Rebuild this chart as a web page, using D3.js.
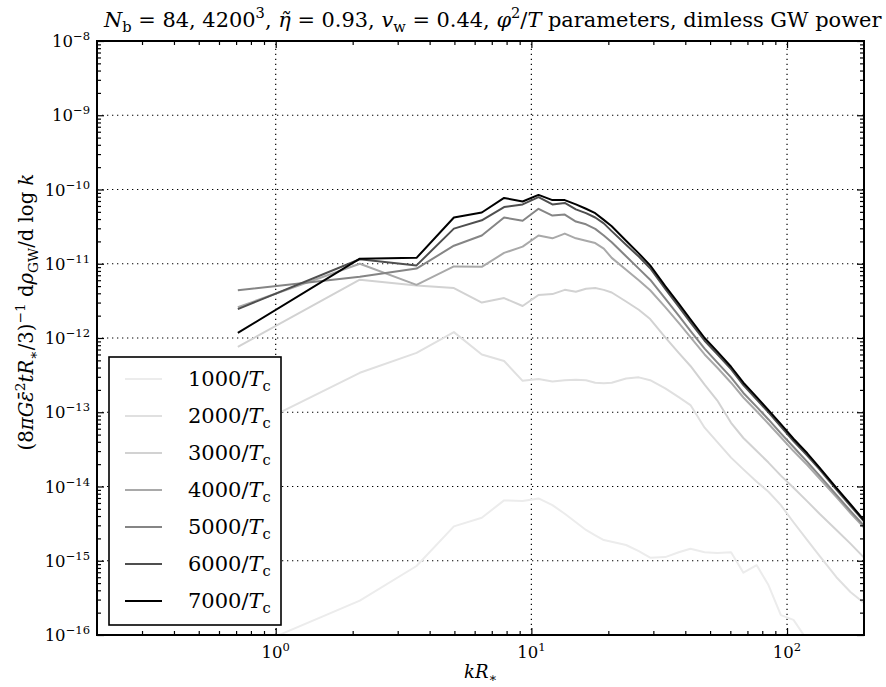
<!DOCTYPE html>
<html>
<head>
<meta charset="utf-8">
<script src="https://cdn.jsdelivr.net/npm/d3@7"></script>
<style>
	body { margin: 0; background: #fff; }
	svg { display: block; }
	text { font-family: "DejaVu Serif", "Liberation Serif", serif; fill: #000; }
</style>
</head>
<body>
<svg id="chart" width="886" height="687"></svg>
<script>
'use strict';

//Wavenumbers kR* shared by all spectra
var kValues = [0.711, 2.133, 3.555, 4.977, 6.399, 7.821, 9.243, 10.665, 12.087, 13.509,
	14.931, 16.353, 17.775, 19.197, 20.619, 23.463, 26.307, 29.151, 33.4, 37.7,
	41.9, 47.6, 53.3, 60.4, 67.5, 76.1, 84.6, 94.6, 106, 120,
	134, 156, 177, 200];

//Dimensionless GW power at each time
var p1000 = [5.8e-17, 2.9e-16, 8.5e-16, 2.9e-15, 3.8e-15, 6.5e-15, 6.4e-15, 6.9e-15, 5.6e-15, 4.3e-15,
	3.3e-15, 2.6e-15, 2.2e-15, 1.9e-15, 1.8e-15, 1.63e-15, 1.35e-15, 1.1e-15, 1.12e-15, 1.3e-15,
	1.45e-15, 1.3e-15, 1.27e-15, 1.3e-15, 6.9e-16, 8.7e-16, 4.7e-16, 1.85e-16, 1.6e-16, 8.5e-17,
	5e-17, 3e-17, 2e-17, 1.5e-17];
var p2000 = [5.2e-14, 3.4e-13, 6.3e-13, 1.2e-12, 6.0e-13, 4.9e-13, 2.65e-13, 2.8e-13, 2.6e-13, 2.7e-13,
	2.75e-13, 2.7e-13, 2.5e-13, 2.45e-13, 2.5e-13, 2.85e-13, 2.95e-13, 2.7e-13, 2.1e-13, 1.6e-13,
	1.25e-13, 6.2e-14, 4.0e-14, 2.45e-14, 1.7e-14, 1.16e-14, 8.5e-15, 5.6e-15, 3.3e-15, 1.9e-15,
	1.16e-15, 6.0e-16, 3.8e-16, 2.7e-16];
var p3000 = [7.6e-13, 6.1e-12, 5.1e-12, 4.7e-12, 3.0e-12, 3.45e-12, 2.7e-12, 3.8e-12, 3.9e-12, 4.45e-12,
	4.2e-12, 4.6e-12, 4.7e-12, 4.45e-12, 4.1e-12, 3.1e-12, 2.4e-12, 1.8e-12, 1.02e-12, 6.3e-13,
	4.2e-13, 2.35e-13, 1.45e-13, 7.2e-14, 4.5e-14, 3.0e-14, 2.1e-14, 1.4e-14, 9.6e-15, 6.3e-15,
	4.3e-15, 2.6e-15, 1.7e-15, 1.1e-15];
var p4000 = [2.6e-12, 1.0e-11, 5.2e-12, 9.2e-12, 9.1e-12, 1.4e-11, 1.7e-11, 2.4e-11, 2.2e-11, 2.55e-11,
	2.2e-11, 2.04e-11, 1.9e-11, 1.6e-11, 1.2e-11, 8.3e-12, 6.0e-12, 4.4e-12, 2.6e-12, 1.6e-12,
	1.03e-12, 6.0e-13, 4.0e-13, 2.5e-13, 1.58e-13, 1.03e-13, 7.0e-14, 4.6e-14, 3.0e-14, 1.95e-14,
	1.28e-14, 7.2e-15, 4.4e-15, 2.8e-15];
var p5000 = [4.4e-12, 6.7e-12, 8.6e-12, 1.75e-11, 2.4e-11, 4.2e-11, 3.8e-11, 5.5e-11, 4.45e-11, 4.6e-11,
	3.7e-11, 3.4e-11, 2.95e-11, 2.4e-11, 1.95e-11, 1.26e-11, 8.6e-12, 6.1e-12, 3.4e-12, 2.0e-12,
	1.25e-12, 7.2e-13, 4.7e-13, 2.95e-13, 1.82e-13, 1.18e-13, 8.0e-14, 5.2e-14, 3.4e-14, 2.15e-14,
	1.4e-14, 7.7e-15, 4.7e-15, 2.95e-15];
var p6000 = [2.45e-12, 1.15e-11, 9.5e-12, 2.97e-11, 3.85e-11, 5.8e-11, 6.3e-11, 7.9e-11, 6.3e-11, 6.6e-11,
	5.4e-11, 4.8e-11, 4.2e-11, 3.5e-11, 2.75e-11, 1.8e-11, 1.25e-11, 8.7e-12, 4.6e-12, 2.65e-12,
	1.62e-12, 9.2e-13, 6.1e-13, 3.8e-13, 2.32e-13, 1.48e-13, 1.0e-13, 6.4e-14, 4.1e-14, 2.6e-14,
	1.7e-14, 9.1e-15, 5.5e-15, 3.4e-15];
var p7000 = [1.17e-12, 1.17e-11, 1.2e-11, 4.2e-11, 4.9e-11, 7.7e-11, 6.9e-11, 8.45e-11, 7.2e-11, 7.2e-11,
	6.3e-11, 5.5e-11, 4.8e-11, 3.9e-11, 3.2e-11, 2.04e-11, 1.38e-11, 9.5e-12, 5.0e-12, 2.9e-12,
	1.78e-12, 1.0e-12, 6.6e-13, 4.1e-13, 2.5e-13, 1.6e-13, 1.07e-13, 6.9e-14, 4.4e-14, 2.8e-14,
	1.8e-14, 9.6e-15, 5.8e-15, 3.5e-15];

var seriesTimes = ['1000', '2000', '3000', '4000', '5000', '6000', '7000'];
var seriesValues = [p1000, p2000, p3000, p4000, p5000, p6000, p7000];
var seriesColors = ['#ececec', '#e0e0e0', '#d2d2d2', '#a9a9a9', '#858585', '#4f4f4f', '#000000'];

var xMajorTicks = [1, 10, 100];
var yMajorTicks = [1e-16, 1e-15, 1e-14, 1e-13, 1e-12, 1e-11, 1e-10, 1e-9, 1e-8];

//Layout
var W = 886, H = 687;
var margin = {top: 41, right: 22, bottom: 52, left: 97};
var TICK_FONT = 16.5, LEGEND_FONT = 21, XLABEL_FONT = 18;

var svg = d3.select('#chart');

var x = d3.scaleLog().domain([0.2, 200]).range([margin.left, W - margin.right]);
var y = d3.scaleLog().domain([1e-16, 1e-8]).range([H - margin.bottom, margin.top]);

/**
 * Append text with sub/superscripts and italics as tspans
 * @param {d3.selection} sel The text element
 * @param {Array} parts List of {t, it, sub, sup}
 * @param {number} size Base font size
 */
function addMath(sel, parts, size) {
	var shift = 0;
	sel.text(null).style('font-size', size + 'px');
	parts.forEach(function(p) {
		var target = p.sup ? -0.42 * size : (p.sub ? 0.24 * size : 0);
		var ts = sel.append('tspan').text(p.t).attr('dy', target - shift);
		if (p.sup || p.sub)
			ts.style('font-size', (0.7 * size) + 'px');
		if (p.it)
			ts.style('font-style', 'italic');
		shift = target;
	});
}

//Draw math text, then rescale its font so it spans the given length
function fitMath(sel, parts, size, length) {
	addMath(sel, parts, size);
	var w = sel.node().getComputedTextLength();
	addMath(sel, parts, size * length / w);
}

//Power of ten label
function powParts(v) {
	var e = Math.round(Math.log10(v));
	return [{t: '10'}, {t: (e < 0 ? '\u2212' + (-e) : '' + e), sup: true}];
}

//Minor tick values (2..9 times each decade)
function minorTicks(lo, hi) {
	var out = [];
	for (var e = lo; e < hi; e++)
		for (var m = 2; m < 10; m++)
			out.push(m * Math.pow(10, e));
	return out;
}
var xMinor = minorTicks(-1, 3).filter(function(v) { return v > 0.2 && v < 200; });
var yMinor = minorTicks(-16, -8);

/***************************************
 * GRID
 ***************************************/
var grid = svg.append('g').attr('class', 'grid')
	.attr('stroke', '#000').attr('stroke-width', 1.2).attr('stroke-dasharray', '1.3,3.7');
grid.selectAll('line.gx').data(xMajorTicks).enter().append('line')
	.attr('x1', function(d) { return x(d); }).attr('x2', function(d) { return x(d); })
	.attr('y1', y.range()[0]).attr('y2', y.range()[1]);
grid.selectAll('line.gy').data(yMajorTicks.slice(1, -1)).enter().append('line')
	.attr('y1', function(d) { return y(d); }).attr('y2', function(d) { return y(d); })
	.attr('x1', x.range()[0]).attr('x2', x.range()[1]);

/***************************************
 * LINES
 ***************************************/
svg.append('clipPath').attr('id', 'plotClip').append('rect')
	.attr('x', margin.left).attr('y', margin.top)
	.attr('width', W - margin.left - margin.right)
	.attr('height', H - margin.top - margin.bottom);

var line = d3.line()
	.x(function(d, i) { return x(kValues[i]); })
	.y(function(d) { return y(d); });

svg.append('g').attr('clip-path', 'url(#plotClip)')
	.selectAll('path').data(seriesValues).enter().append('path')
	.attr('fill', 'none')
	.attr('stroke', function(d, i) { return seriesColors[i]; })
	.attr('stroke-width', 2)
	.attr('stroke-linejoin', 'round')
	.attr('d', line);

/***************************************
 * AXES (ticks on all four sides, pointing in)
 ***************************************/
function tickAxis(axisFn, scale, values, size, transform) {
	var g = svg.append('g').attr('transform', transform)
		.call(axisFn(scale).tickValues(values).tickSize(-size).tickFormat(''));
	g.select('.domain').remove();
	g.selectAll('line').attr('stroke', '#000').attr('stroke-width', 1.2);
	return g;
}
var bottomY = y.range()[0], topY = y.range()[1];
var leftX = x.range()[0], rightX = x.range()[1];
tickAxis(d3.axisBottom, x, xMajorTicks, 7, 'translate(0,' + bottomY + ')');
tickAxis(d3.axisBottom, x, xMinor, 4, 'translate(0,' + bottomY + ')');
tickAxis(d3.axisTop, x, xMajorTicks, 7, 'translate(0,' + topY + ')');
tickAxis(d3.axisTop, x, xMinor, 4, 'translate(0,' + topY + ')');
tickAxis(d3.axisLeft, y, yMajorTicks, 7, 'translate(' + leftX + ',0)');
tickAxis(d3.axisLeft, y, yMinor, 4, 'translate(' + leftX + ',0)');
tickAxis(d3.axisRight, y, yMajorTicks, 7, 'translate(' + rightX + ',0)');
tickAxis(d3.axisRight, y, yMinor, 4, 'translate(' + rightX + ',0)');

//Frame
svg.append('rect')
	.attr('x', leftX).attr('y', topY)
	.attr('width', rightX - leftX).attr('height', bottomY - topY)
	.attr('fill', 'none').attr('stroke', '#000').attr('stroke-width', 2);

//Tick labels
svg.append('g').selectAll('text').data(xMajorTicks).enter().append('text')
	.attr('x', function(d) { return x(d); })
	.attr('y', bottomY + 23)
	.attr('text-anchor', 'middle')
	.each(function(d) { addMath(d3.select(this), powParts(d), TICK_FONT); });
svg.append('g').selectAll('text').data(yMajorTicks).enter().append('text')
	.attr('x', leftX - 7)
	.attr('y', function(d) { return y(d) + 6; })
	.attr('text-anchor', 'end')
	.each(function(d) { addMath(d3.select(this), powParts(d), TICK_FONT); });

/***************************************
 * LABELS
 ***************************************/
var xLabel = svg.append('text')
	.attr('x', (leftX + rightX) / 2).attr('y', H - 9)
	.attr('text-anchor', 'middle');
addMath(xLabel, [{t: 'kR', it: true}, {t: '\u2217', sub: true}], XLABEL_FONT);

var yLabel = svg.append('text')
	.attr('transform', 'translate(33,312) rotate(-90)')
	.attr('text-anchor', 'middle');
fitMath(yLabel, [
	{t: '(8'}, {t: '\u03c0G\u03b5\u0304', it: true}, {t: '2', sup: true},
	{t: 'tR', it: true}, {t: '\u2217', sub: true}, {t: '/3)'}, {t: '\u22121', sup: true},
	{t: ' d'}, {t: '\u03c1', it: true}, {t: 'GW', sub: true}, {t: '/d log '}, {t: 'k', it: true}
], 18, 277);

var title = svg.append('text')
	.attr('x', 104).attr('y', 27);
fitMath(title, [
	{t: 'N', it: true}, {t: 'b', sub: true}, {t: ' = 84, 4200'}, {t: '3', sup: true},
	{t: ', '}, {t: '\u03b7\u0303', it: true}, {t: ' = 0.93, '}, {t: 'v', it: true}, {t: 'w', sub: true},
	{t: ' = 0.44, '}, {t: '\u03c6', it: true}, {t: '2', sup: true}, {t: '/'}, {t: 'T', it: true},
	{t: ' parameters, dimless GW power'}
], 20, 778);

/***************************************
 * LEGEND
 ***************************************/
var legend = svg.append('g').attr('class', 'legend');
legend.append('rect')
	.attr('x', 109).attr('y', 357).attr('width', 172).attr('height', 268)
	.attr('fill', '#fff').attr('stroke', '#000').attr('stroke-width', 1.6);
var items = legend.selectAll('g.item').data(seriesTimes).enter().append('g')
	.attr('class', 'item')
	.attr('transform', function(d, i) { return 'translate(0,' + (379 + i * 37) + ')'; });
items.append('line')
	.attr('x1', 125).attr('x2', 162)
	.attr('stroke', function(d, i) { return seriesColors[i]; })
	.attr('stroke-width', 2);
items.append('text')
	.attr('x', 188).attr('y', 7)
	.each(function(d) {
		addMath(d3.select(this), [{t: d + '/'}, {t: 'T', it: true}, {t: 'c', sub: true}], LEGEND_FONT);
	});
</script>
</body>
</html>
